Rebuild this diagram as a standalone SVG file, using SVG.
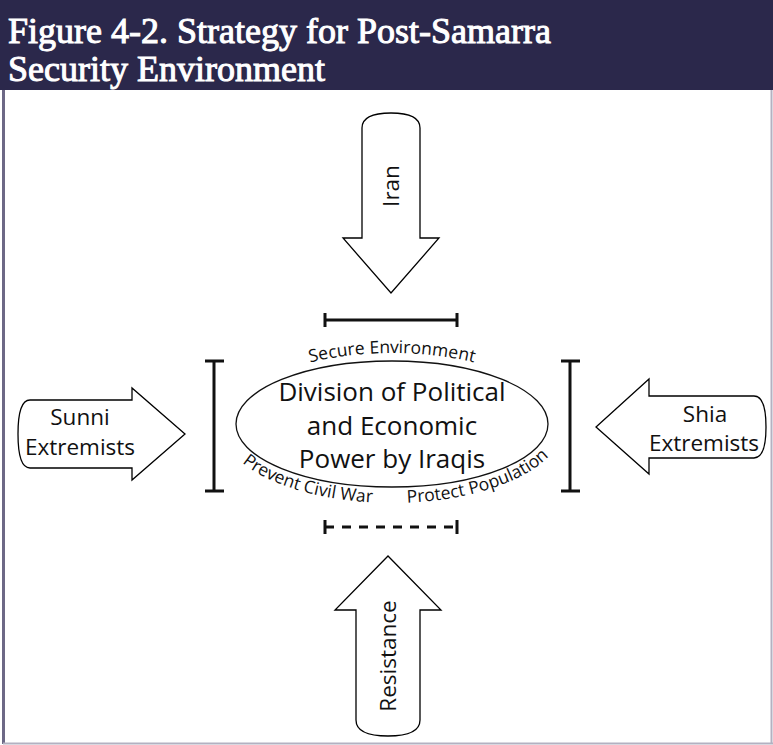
<svg xmlns="http://www.w3.org/2000/svg" width="773" height="745" viewBox="0 0 773 745">
<style>
.arrow{fill:#fff;stroke:#000;stroke-width:1.3;stroke-linejoin:miter}
.lbl{font-family:"Open Sans","Noto Sans","Liberation Sans",sans-serif;font-size:22.5px;fill:#111;text-anchor:middle}
.big{font-family:"Open Sans","Noto Sans","Liberation Sans",sans-serif;font-size:26px;fill:#111;text-anchor:middle}
.small{font-family:"Open Sans","Noto Sans","Liberation Sans",sans-serif;font-size:17.5px;fill:#111}
.br{stroke:#111;stroke-width:3;fill:none}
.title{font-family:"Liberation Serif","DejaVu Serif",serif;font-size:36px;fill:#fff;stroke:#fff;stroke-width:1}
</style>
<defs>
<path id="pTop" d="M 228 424 A 164 71 0 0 1 556 424"/>
<path id="pBot" d="M 220 424 A 172 79 0 0 0 564 424"/>
</defs>
<rect x="0" y="0" width="773" height="745" fill="#fff"/>
<g id="header">
<rect x="0" y="0" width="773" height="90" fill="#2b284b"/>
<text class="title" x="8" y="43">Figure 4-2. Strategy for Post-Samarra</text>
<text class="title" x="8" y="81">Security Environment</text>
</g>
<g id="frame">
<line x1="3.5" y1="90" x2="3.5" y2="744" stroke="#6d6886" stroke-width="3"/>
<line x1="771.5" y1="90" x2="771.5" y2="744" stroke="#b3b1c1" stroke-width="2"/>
<line x1="3" y1="743.5" x2="773" y2="743.5" stroke="#b3b1c1" stroke-width="2"/>
</g>
<g id="connectors">
<path class="br" d="M 325 320 H 457 M 325 313 V 327 M 457 313 V 327"/>
<path class="br" d="M 214 361 V 491 M 205 361 H 224 M 205 491 H 224"/>
<path class="br" d="M 570 361 V 491 M 561 361 H 580 M 561 491 H 580"/>
<path class="br" d="M 325 527 H 457" stroke-dasharray="9 8"/>
<path class="br" d="M 325 520 V 534 M 457 520 V 534"/>
</g>
<g id="iran">
<path class="arrow" d="M 362 238 V 128 Q 362 113 391 113 Q 420 113 420 128 V 238 H 439 L 391 293 L 343 238 Z"/>
<text class="lbl" transform="translate(399,186) rotate(-90)" font-size="24">Iran</text>
</g>
<g id="sunni">
<path class="arrow" d="M 132 400 H 30 Q 18 400 18 434 Q 18 468 30 468 H 132 V 480 L 185 434 L 132 388 Z"/>
<text class="lbl" x="80" y="425">Sunni</text>
<text class="lbl" x="80" y="455">Extremists</text>
</g>
<g id="shia">
<path class="arrow" d="M 649 396 H 754 Q 766 396 766 427 Q 766 458 754 458 H 649 V 474 L 596 427 L 649 379 Z"/>
<text class="lbl" x="705" y="422">Shia</text>
<text class="lbl" x="704" y="451">Extremists</text>
</g>
<g id="resistance">
<path class="arrow" d="M 356 610 V 720 Q 356 736 388 736 Q 420 736 420 720 V 610 H 441 L 388 556 L 335 610 Z"/>
<text class="lbl" transform="translate(396,656) rotate(-90)" font-size="24">Resistance</text>
</g>
<g id="center">
<ellipse cx="392" cy="424" rx="156" ry="63" fill="#fff" stroke="#111" stroke-width="1.3"/>
<text class="big" x="392" y="401">Division of Political</text>
<text class="big" x="392" y="435">and Economic</text>
<text class="big" x="392" y="468">Power by Iraqis</text>
<text class="small"><textPath href="#pTop" startOffset="50%" text-anchor="middle">Secure Environment</textPath></text>
<text class="small"><textPath href="#pBot" startOffset="46">Prevent Civil War</textPath></text>
<text class="small"><textPath href="#pBot" startOffset="219">Protect Population</textPath></text>
</g>
</svg>
